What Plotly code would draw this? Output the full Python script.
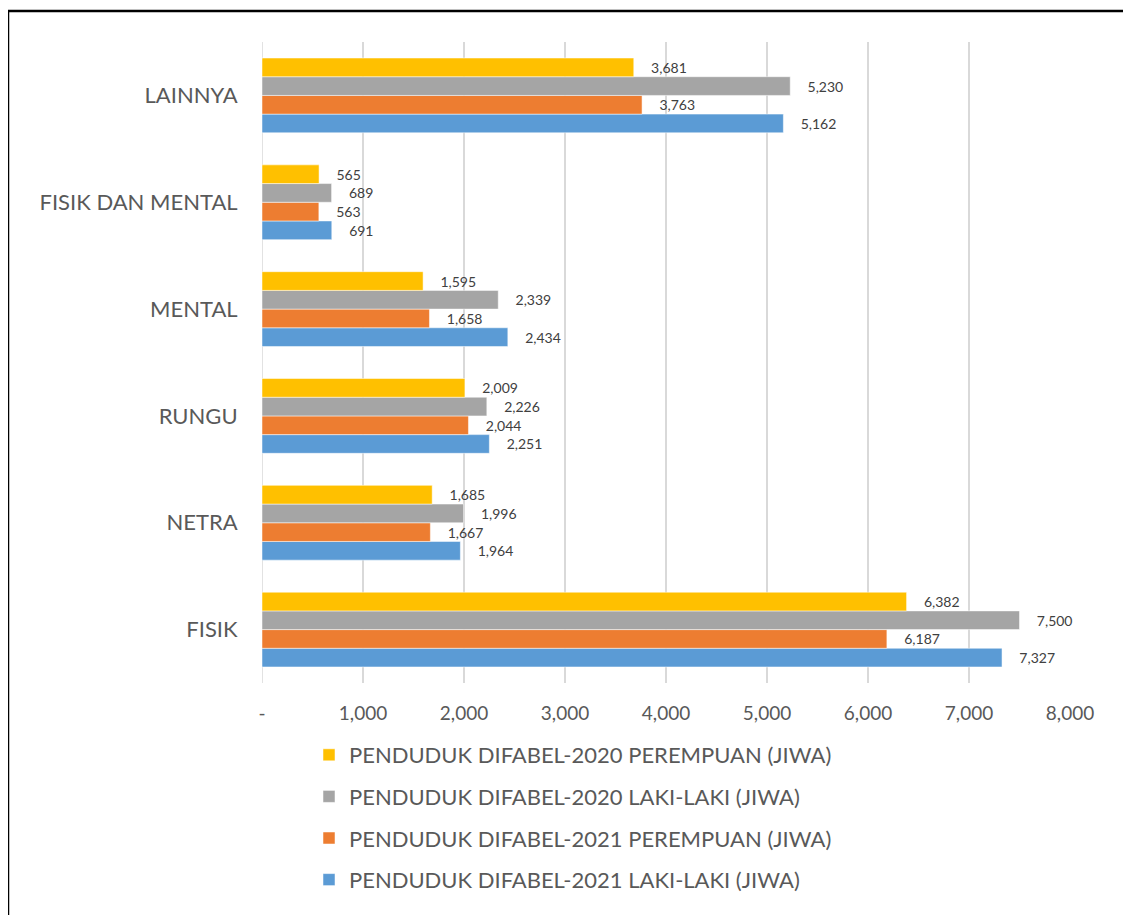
import plotly.graph_objects as go

categories = ["FISIK", "NETRA", "RUNGU", "MENTAL", "FISIK DAN MENTAL", "LAINNYA"]
p2020_perempuan = [6382, 1685, 2009, 1595, 565, 3681]
p2020_laki = [7500, 1996, 2226, 2339, 689, 5230]
p2021_perempuan = [6187, 1667, 2044, 1658, 563, 3763]
p2021_laki = [7327, 1964, 2251, 2434, 691, 5162]
tick_vals = [0, 1000, 2000, 3000, 4000, 5000, 6000, 7000, 8000]
tick_text = ["-", "1,000", "2,000", "3,000", "4,000", "5,000", "6,000", "7,000", "8,000"]

series = [
    ("PENDUDUK DIFABEL-2021 LAKI-LAKI (JIWA)", p2021_laki, "#5B9BD5", 4),
    ("PENDUDUK DIFABEL-2021 PEREMPUAN (JIWA)", p2021_perempuan, "#ED7D31", 3),
    ("PENDUDUK DIFABEL-2020 LAKI-LAKI (JIWA)", p2020_laki, "#A5A5A5", 2),
    ("PENDUDUK DIFABEL-2020 PEREMPUAN (JIWA)", p2020_perempuan, "#FFC000", 1),
]

FONT = "Lato"
fig = go.Figure()
for i, (name, vals, color, rank) in enumerate(series):
    fig.add_trace(go.Bar(
        y=categories, x=vals, name=name, orientation="h",
        marker=dict(color=color, line=dict(color="white", width=0.5)),
        text=[f"{v:,}" for v in vals], textposition="outside",
        texttemplate="    %{text}", cliponaxis=False,
        textfont=dict(family=FONT, size=14, color="#404040"),
        legendgroup=f"g{i}", legendrank=rank,
    ))

# page body has an 8px margin; work in screen coordinates and convert
OX, OY = 8, 8
W, H = 1131 - OX, 915 - OY
L, R, T, B = 262 - OX, 1070 - OX, 42 - OY, 683 - OY
pw, ph = R - L, B - T
def px(x): return (x - OX - L) / pw
def py(y): return (B - (y - OY)) / ph

fig.update_layout(
    width=W, height=H,
    margin=dict(l=L, r=W - R, t=T, b=H - B, pad=0),
    paper_bgcolor="white", plot_bgcolor="white",
    barmode="group", bargap=0.30, bargroupgap=0,
    font=dict(family=FONT, color="#595959"),
    showlegend=True,
    legend=dict(
        x=px(309), y=py(734), xanchor="left", yanchor="top",
        traceorder="grouped", tracegroupgap=10,
        font=dict(family=FONT, size=22, color="#595959"),
        itemwidth=30,
    ),
    xaxis=dict(
        range=[0, 8000], tickvals=tick_vals, ticktext=tick_text,
        showgrid=True, gridcolor="#D9D9D9", gridwidth=1.5,
        zeroline=False, showline=False,
        ticks="outside", ticklen=13, tickcolor="rgba(0,0,0,0)",
        tickfont=dict(family=FONT, size=19, color="#595959"),
    ),
    yaxis=dict(
        categoryorder="array", categoryarray=categories,
        showgrid=False, zeroline=False, showline=False,
        ticks="outside", ticklen=19, tickcolor="rgba(0,0,0,0)",
        tickfont=dict(family=FONT, size=22, color="#595959"),
    ),
    shapes=[
        dict(type="rect", xref="paper", yref="paper",
             x0=px(8), x1=px(1145), y0=py(930), y1=py(11),
             line=dict(color="black", width=2.5), fillcolor="rgba(0,0,0,0)", layer="above"),
        dict(type="line", xref="x", yref="paper", x0=0, x1=0, y0=0, y1=1,
             line=dict(color="#D9D9D9", width=1.5), layer="below"),
    ],
)

fig.write_html("out.html")
